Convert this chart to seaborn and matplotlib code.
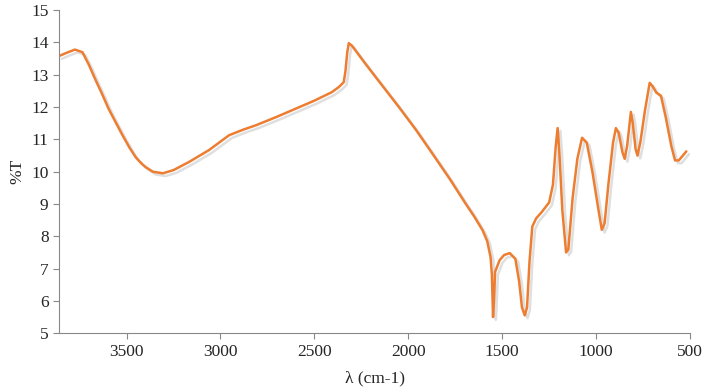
import numpy as np
import pandas as pd
import matplotlib
matplotlib.use("Agg")
import matplotlib.pyplot as plt
import matplotlib.patheffects as pe
import seaborn as sns

# FTIR spectrum
wavenumber = [3860, 3820, 3775, 3735, 3700, 3666, 3630, 3596, 3560, 3521, 3485, 3452,
              3420, 3398, 3360, 3307, 3250, 3168, 3061, 2954, 2880, 2810,
              2700, 2600, 2500, 2408, 2370, 2344, 2335, 2325, 2317, 2300, 2231, 2150,
              2050, 1960, 1873, 1780, 1696, 1650, 1605, 1580, 1562, 1555, 1549, 1545,
              1538, 1514, 1490, 1460, 1430, 1410, 1395, 1380, 1368, 1355, 1340, 1320,
              1290, 1250, 1230, 1215, 1205, 1195, 1180, 1160, 1148, 1125, 1100, 1075,
              1050, 1020, 990, 970, 955, 935, 910, 895, 880, 860, 848, 835, 815, 805,
              790, 780, 765, 740, 715, 700, 680, 655, 630, 600, 580, 560, 520]
transmit = [13.58, 13.68, 13.78, 13.7, 13.3, 12.85, 12.4, 11.95, 11.55, 11.12, 10.75, 10.45,
            10.25, 10.14, 10.0, 9.95, 10.05, 10.3, 10.67, 11.13, 11.3, 11.44,
            11.7, 11.95, 12.2, 12.46, 12.62, 12.77, 13.1, 13.7, 13.98, 13.9, 13.36, 12.75,
            12.0, 11.3, 10.57, 9.78, 9.02, 8.62, 8.19, 7.85, 7.35, 6.8, 5.5, 5.9,
            6.9, 7.26, 7.42, 7.48, 7.3, 6.6, 5.8, 5.55, 5.8, 7.2, 8.3, 8.55,
            8.75, 9.05, 9.6, 10.8, 11.35, 10.5, 8.8, 7.5, 7.6, 9.2, 10.4, 11.05,
            10.9, 10.0, 8.9, 8.2, 8.4, 9.6, 10.9, 11.35, 11.2, 10.6, 10.4, 10.8, 11.85, 11.5,
            10.7, 10.5, 10.9, 11.9, 12.75, 12.65, 12.45, 12.35, 11.7, 10.8, 10.35, 10.35, 10.63]

df = pd.DataFrame({"wn": wavenumber, "T": transmit})

sns.set_style("ticks")
plt.rcParams["font.family"] = ["Liberation Serif", "DejaVu Serif"]

fig = plt.figure(figsize=(7.02, 3.92), dpi=100)
ax = fig.add_axes([0.084, 0.15, 0.899, 0.824])

sns.lineplot(data=df, x="wn", y="T", ax=ax, color="#ED7D31", linewidth=1.8, sort=False,
             path_effects=[pe.SimpleLineShadow(offset=(2, -2), alpha=0.25, shadow_color="gray"),
                           pe.Normal()])

ax.set_xlim(3860, 500)
ax.set_ylim(5, 15)
ax.set_yticks(range(5, 16))
ax.set_xticks([3500, 3000, 2500, 2000, 1500, 1000, 500])
ax.set_xlabel("λ (cm-1)", fontsize=12.5, labelpad=8)
ax.set_ylabel("%T", fontsize=12.5)
ax.tick_params(labelsize=12.5, color="#888888", length=4)
for s in ["top", "right"]:
    ax.spines[s].set_visible(False)
for s in ["left", "bottom"]:
    ax.spines[s].set_color("#888888")

fig.savefig("out.png", dpi=100)
